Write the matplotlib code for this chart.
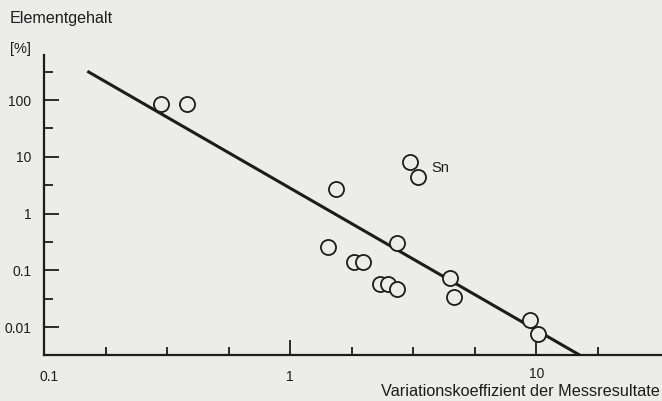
import numpy as np
import matplotlib
matplotlib.use("Agg")
import matplotlib.pyplot as plt
from matplotlib.ticker import FixedLocator, NullFormatter

plt.rcParams['font.family'] = ['Liberation Sans', 'DejaVu Sans']

# Data
cv = [0.30, 0.38, 1.53, 3.08, 3.32, 1.42, 2.73, 1.81, 1.97, 2.31, 2.49, 2.73, 4.48, 4.64, 9.4, 10.2]
content = [85, 85, 2.7, 8.1, 4.4, 0.26, 0.30, 0.14, 0.14, 0.057, 0.057, 0.047, 0.073, 0.034, 0.0133, 0.0075]
fit_x = [0.15, 15.1]
fit_slope = -2.5
fit_at_1 = 2.8
x_major = [0.1, 1, 10]
x_major_labels = ['0.1', '1', '10']
y_major = [0.01, 0.1, 1, 10, 100]
y_major_labels = ['0.01', '0.1', '1', '10', '100']

bg = '#ecece9'
ink = '#1c1c1c'

fig = plt.figure(figsize=(6.62, 4.01), dpi=100, facecolor=bg)
ax = fig.add_axes([44/662, 1-355/401, 1-44/662, (355-55)/401])
ax.set_facecolor(bg)
ax.set_xscale('log')
ax.set_yscale('log')
ax.set_xlim(0.1, 10**1.511)
ax.set_ylim(10**-2.493, 10**2.793)

fx = np.array(fit_x)
fy = fit_at_1 * fx**fit_slope
ax.plot(fx, fy, color=ink, lw=2.2, solid_capstyle='butt', zorder=2)

ax.scatter(cv, content, s=118, facecolors=bg, edgecolors=ink, linewidths=1.3, zorder=3)
ax.text(3.75, 6.3, 'Sn', fontsize=10.5, color=ink, va='center', ha='left')

for s in ['top', 'right']:
    ax.spines[s].set_visible(False)
for s in ['left', 'bottom']:
    ax.spines[s].set_linewidth(1.6)
    ax.spines[s].set_color(ink)

ax.xaxis.set_major_locator(FixedLocator(x_major))
ax.set_xticklabels(x_major_labels)
ax.xaxis.set_minor_locator(FixedLocator([10**(e/4) for e in range(-3, 6) if e % 4 != 0]))
ax.xaxis.set_minor_formatter(NullFormatter())
ax.yaxis.set_major_locator(FixedLocator(y_major))
ax.set_yticklabels(y_major_labels)
ax.yaxis.set_minor_locator(FixedLocator([10**(e+0.5) for e in range(-2, 3)]))
ax.yaxis.set_minor_formatter(NullFormatter())

ax.tick_params(axis='both', which='major', direction='in', length=11, width=1.3, color=ink,
               labelsize=10, labelcolor=ink)
ax.tick_params(axis='both', which='minor', direction='in', length=6.5, width=1.3, color=ink)
ax.tick_params(axis='y', which='major', pad=9)
ax.tick_params(axis='x', which='major', pad=11)
ax.tick_params(axis='x', which='minor', length=6)
labels = ax.get_xticklabels()
labels[0].set_x(0.1)
for lab in labels:
    lab.set_fontsize(10)
# nudge the first label slightly right and the '10' label up, as in the reference
import matplotlib.transforms as mtrans
labels[0].set_transform(labels[0].get_transform() + mtrans.ScaledTranslation(5/100, 0, fig.dpi_scale_trans))
labels[2].set_transform(labels[2].get_transform() + mtrans.ScaledTranslation(0, 3/100, fig.dpi_scale_trans))

fig.text(10/662, 1-18/401, 'Elementgehalt', fontsize=11.6, color=ink, ha='left', va='center')
fig.text(10/662, 1-49/401, '[%]', fontsize=10.5, color=ink, ha='left', va='center')
fig.text(660/662, 1-396/401, 'Variationskoeffizient der Messresultate', fontsize=11.7, color=ink,
         ha='right', va='baseline')

fig.savefig('out.png', dpi=100, facecolor=bg)
